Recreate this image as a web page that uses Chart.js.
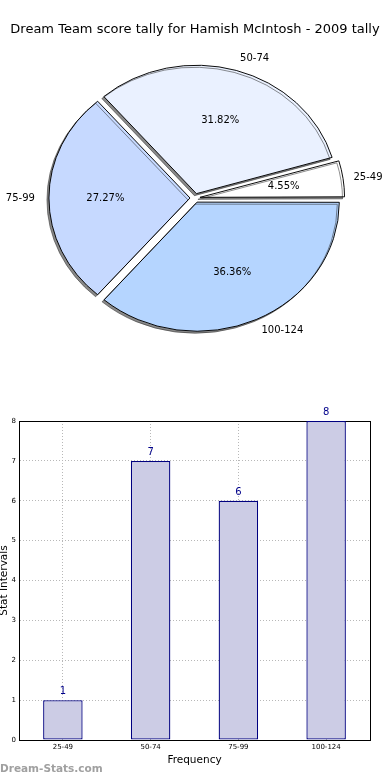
<!DOCTYPE html>
<html>
<head>
<meta charset="utf-8">
<script src="https://cdn.jsdelivr.net/npm/chart.js@4.4.0/dist/chart.umd.min.js"></script>
<style>
  body { margin: 0; background: #fff; width: 390px; height: 780px; position: relative; overflow: hidden; }
  #pie-chart { position: absolute; left: 0; top: 0; }
  #bar-chart { position: absolute; left: 0; top: 400px; }
  #mark { position: absolute; left: 0; top: 762px; font: bold 10.5px 'DejaVu Sans', sans-serif; color: #a0a0a0; }
</style>
</head>
<body>
<canvas id="pie-chart" width="390" height="370"></canvas>
<canvas id="bar-chart" width="390" height="380"></canvas>
<div id="mark">Dream-Stats.com</div>
<script>
const categories = ['25-49', '50-74', '75-99', '100-124'];
const counts = [1, 7, 6, 8];
const pieColors = ['#ffffff', '#eaf1ff', '#c6d9ff', '#b5d5ff'];
const yTicks = [0, 1, 2, 3, 4, 5, 6, 7, 8];

Chart.defaults.font.family = "'DejaVu Sans', sans-serif";
Chart.defaults.color = '#000';

const total = counts.reduce((a, b) => a + b, 0);
// the original pie is a bit squashed vertically
const squash = 128 / 141;

// pie runs counter-clockwise from 3 o'clock, chart.js goes clockwise, so flip the order
const pieLabels = categories.slice().reverse();
const pieValues = counts.slice().reverse();
const pieFill = pieColors.slice().reverse();

const pieLook = {
    id: 'pieLook',
    beforeDatasetsDraw(chart) {
        const arc = chart.getDatasetMeta(0).data[0];
        const ctx = chart.ctx;
        ctx.save();
        ctx.translate(arc.x, arc.y);
        ctx.scale(1, squash);
        ctx.translate(-arc.x, -arc.y);
        ctx.shadowColor = 'rgba(40,40,40,0.55)';
        ctx.shadowOffsetX = -2;
        ctx.shadowOffsetY = 2;
    },
    afterDatasetsDraw(chart) {
        const ctx = chart.ctx;
        ctx.restore();
        ctx.save();
        ctx.font = "10px 'DejaVu Sans', sans-serif";
        ctx.fillStyle = '#000';
        ctx.textBaseline = 'middle';
        chart.getDatasetMeta(0).data.forEach((arc, i) => {
            const mid = (arc.startAngle + arc.endAngle) / 2;
            const off = arc.options.offset / 4;
            const cx = arc.x + Math.cos(mid) * off;
            const cy = arc.y + Math.sin(mid) * off * squash;
            const r = arc.outerRadius;
            const pct = (pieValues[i] / total * 100).toFixed(2) + '%';
            ctx.textAlign = 'center';
            ctx.fillText(pct, cx + Math.cos(mid) * r * 0.6, cy + Math.sin(mid) * r * 0.6 * squash);
            ctx.textAlign = Math.cos(mid) >= 0 ? 'left' : 'right';
            ctx.fillText(pieLabels[i], cx + Math.cos(mid) * r * 1.1, cy + Math.sin(mid) * r * 1.1 * squash);
        });
        ctx.restore();
    }
};

const pie_ctx = document.getElementById('pie-chart').getContext('2d');
const pie_chart = new Chart(pie_ctx, {
    type: 'pie',
    data: {
        labels: pieLabels,
        datasets: [{
            data: pieValues,
            backgroundColor: pieFill,
            borderColor: '#000',
            borderWidth: 1,
            offset: 20,
            hoverOffset: 20,
            clip: false
        }]
    },
    options: {
        responsive: false,
        animation: false,
        events: [],
        rotation: 90,
        radius: 141,
        layout: { padding: { bottom: 11.6 } },
        plugins: {
            legend: { display: false },
            tooltip: { enabled: false },
            title: {
                display: true,
                text: 'Dream Team score tally for Hamish McIntosh - 2009 tally',
                color: '#000',
                font: { size: 13, weight: 'normal' },
                padding: { top: 22, bottom: 0 }
            }
        }
    },
    plugins: [pieLook]
});

const barLook = {
    id: 'barLook',
    beforeDatasetsDraw(chart) {
        const a = chart.chartArea;
        const ctx = chart.ctx;
        ctx.save();
        ctx.strokeStyle = '#000';
        ctx.lineWidth = 1;
        ctx.strokeRect(Math.round(a.left) + 0.5, Math.round(a.top) + 0.5, Math.round(a.right - a.left), Math.round(a.bottom - a.top));
        ctx.restore();
    },
    afterDatasetsDraw(chart) {
        const ctx = chart.ctx;
        ctx.save();
        ctx.font = "10px 'DejaVu Sans', sans-serif";
        ctx.fillStyle = '#00008b';
        ctx.textAlign = 'center';
        ctx.textBaseline = 'middle';
        chart.getDatasetMeta(0).data.forEach((bar, i) => {
            ctx.fillText(String(counts[i]), bar.x, bar.y - 8.5);
        });
        ctx.restore();
    }
};

const bar_ctx = document.getElementById('bar-chart').getContext('2d');
const bar_chart = new Chart(bar_ctx, {
    type: 'bar',
    data: {
        labels: categories,
        datasets: [{
            data: counts,
            backgroundColor: '#cccce5',
            borderColor: '#000080',
            borderWidth: 1.3,
            borderSkipped: false,
            barPercentage: 0.45,
            categoryPercentage: 1
        }]
    },
    options: {
        responsive: false,
        animation: false,
        events: [],
        layout: { padding: { top: 21, right: 20, left: 0, bottom: 0 } },
        plugins: {
            legend: { display: false },
            tooltip: { enabled: false }
        },
        scales: {
            x: {
                afterFit(scale) { scale.height = 40; },
                grid: { offset: false, color: '#b8b8b8', drawTicks: false },
                border: { color: '#000', dash: [1, 2] },
                ticks: { font: { size: 7 }, padding: 3, color: '#000' },
                title: {
                    display: true,
                    text: 'Frequency',
                    color: '#000',
                    font: { size: 10.5 },
                    padding: { top: 0, bottom: 13.7 }
                }
            },
            y: {
                min: yTicks[0],
                max: yTicks[yTicks.length - 1],
                afterFit(scale) { scale.width = 19; },
                afterBuildTicks(scale) { scale.ticks = yTicks.map(v => ({ value: v })); },
                grid: { color: '#b8b8b8', drawTicks: false },
                border: { color: '#000', dash: [1, 2] },
                ticks: { font: { size: 7 }, padding: 3, color: '#000' },
                title: {
                    display: true,
                    text: 'Stat Intervals',
                    color: '#000',
                    font: { size: 10.5 },
                    padding: { top: -2.5, bottom: 0 }
                }
            }
        }
    },
    plugins: [barLook]
});
</script>
</body>
</html>
